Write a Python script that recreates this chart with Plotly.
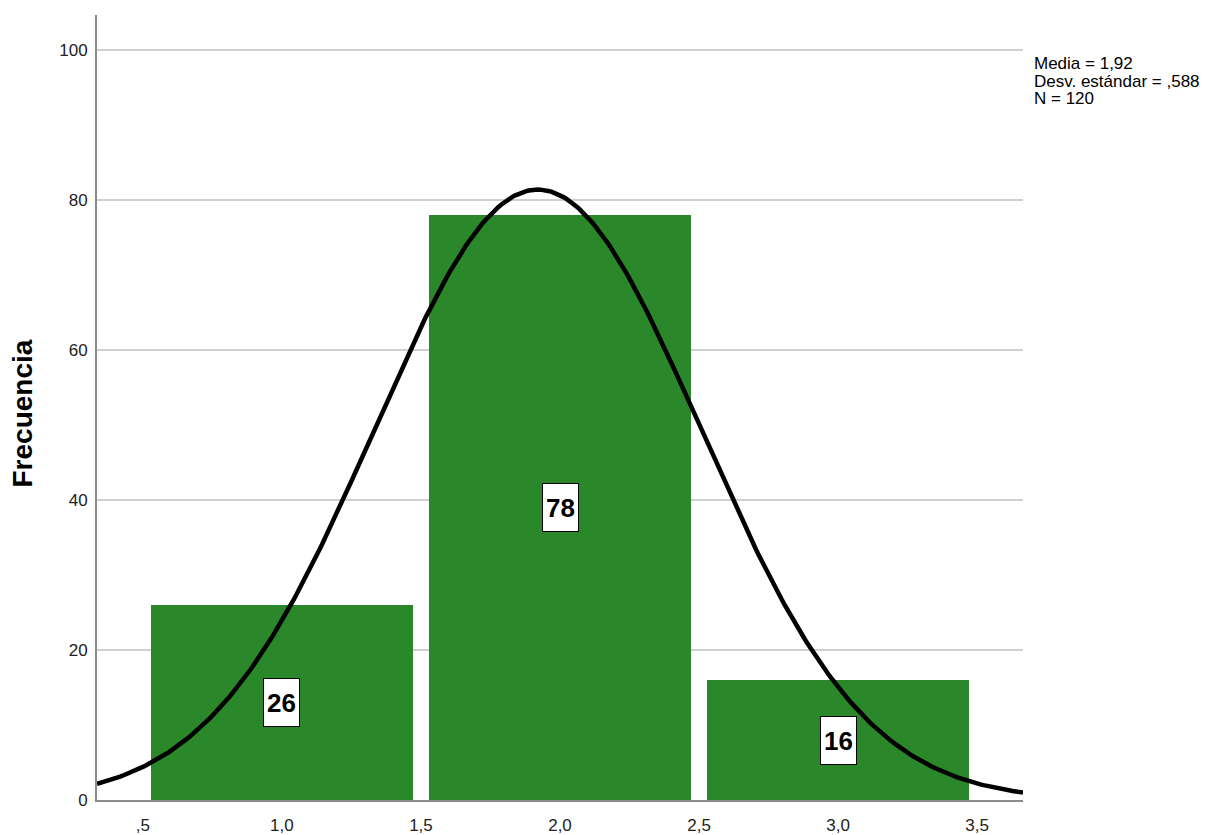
import numpy as np
import plotly.graph_objects as go

categories = [1.0, 2.0, 3.0]
counts = [26, 78, 16]
mean_val = 1.92
std_val = 0.588
n_total = 120
stats_lines = ["Media = 1,92", "Desv. estándar = ,588", f"N = {n_total}"]
x_tickvals = [0.5, 1.0, 1.5, 2.0, 2.5, 3.0, 3.5]
x_ticktext = [",5", "1,0", "1,5", "2,0", "2,5", "3,0", "3,5"]
y_tickvals = [0, 20, 40, 60, 80, 100]

bar_color = "#2a872a"
x_range = [0.335, 3.665]
y_range = [0, 104.7]
FONT = "Liberation Sans, Arial"

fig = go.Figure()
fig.add_trace(go.Bar(x=categories, y=counts, width=0.945,
                     marker=dict(color=bar_color, line=dict(width=0)),
                     hoverinfo="skip"))

xs = np.linspace(x_range[0], x_range[1], 400)
ys = n_total * 1.0 / (std_val * np.sqrt(2 * np.pi)) * np.exp(-0.5 * ((xs - mean_val) / std_val) ** 2)
fig.add_trace(go.Scatter(x=xs, y=ys, mode="lines", line=dict(color="black", width=4.5),
                         hoverinfo="skip"))

for c, v in zip(categories, counts):
    fig.add_annotation(x=c, y=v / 2, text=f"<b>{v}</b>", showarrow=False,
                       font=dict(family=FONT, size=26, color="black"),
                       width=29, height=41, valign="middle",
                       bgcolor="white", bordercolor="black", borderwidth=1, borderpad=3)

for i, line in enumerate(stats_lines):
    fig.add_annotation(xref="paper", yref="paper", x=1.01, y=0.963, yshift=-8 - 17.5 * i,
                       xanchor="left", yanchor="top", align="left", showarrow=False,
                       text=line, font=dict(family=FONT, size=17, color="black"))

fig.add_annotation(xref="paper", yref="paper", x=0, y=0.5, xshift=-75, yshift=-6,
                   xanchor="center", yanchor="middle", textangle=-90, showarrow=False,
                   text="<b>Frecuencia</b>", font=dict(family=FONT, size=28, color="black"))

fig.update_layout(
    width=1212, height=835,
    margin=dict(l=89, r=197, t=7, b=43),
    paper_bgcolor="white", plot_bgcolor="white",
    showlegend=False, bargap=0,
    font=dict(family=FONT, size=17, color="#222222"),
    xaxis=dict(range=x_range, tickvals=x_tickvals, ticktext=x_ticktext,
               showgrid=False, zeroline=False, showline=True, linecolor="#8c8c8c", linewidth=2,
               ticks="", ticklabelstandoff=9, tickfont=dict(size=17, color="#222222")),
    yaxis=dict(range=y_range, tickvals=y_tickvals, showgrid=True, gridcolor="#cfcfcf", gridwidth=2,
               zeroline=False, showline=True, linecolor="#8c8c8c", linewidth=2, ticks="",
               ticklabelstandoff=4, tickfont=dict(size=17, color="#222222")),
)

fig.write_html("out.html")
